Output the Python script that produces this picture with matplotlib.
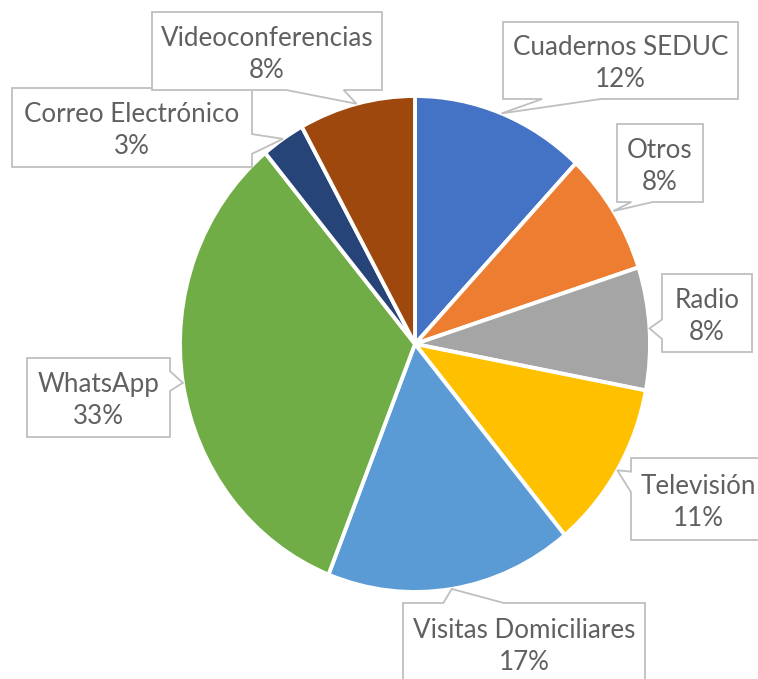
import matplotlib
matplotlib.use("Agg")
import matplotlib.pyplot as plt
from matplotlib.patches import Polygon
import numpy as np

# ---- data ----
categories = ["Cuadernos SEDUC", "Otros", "Radio", "Televisión",
              "Visitas Domiciliares", "WhatsApp", "Correo Electrónico",
              "Videoconferencias"]
values = [12, 8, 8, 11, 17, 33, 3, 8]
colors = ["#4472C4", "#ED7D31", "#A5A5A5", "#FFC000",
          "#5B9BD5", "#70AD47", "#264478", "#9E480E"]

# ---- layout (pixels) ----
W, H = 758, 679
cx, cy, rx, ry = 415, 344, 235, 248
# label boxes: left, top, right, bottom (pixel coords, y downward)
boxes = [
    (503, 22, 738, 99),
    (617, 124, 703, 202),
    (662, 274, 752, 352),
    (631, 458, 765, 540),
    (403, 603, 645, 684),
    (27, 358, 170, 437),
    (12, 88, 252, 167),
    (152, 12, 382, 90),
]
text_color = "#606060"
edge_color = "#BFBFBF"

fig = plt.figure(figsize=(W / 100, H / 100), dpi=100)
fig.patch.set_facecolor("white")

axp = fig.add_axes([(cx - rx) / W, (H - (cy + ry)) / H, 2 * rx / W, 2 * ry / H])
wedges, _ = axp.pie(values, colors=colors, startangle=90, counterclock=False,
                    radius=1, center=(0, 0), normalize=True,
                    wedgeprops=dict(edgecolor="white", linewidth=2.8))
axp.set_aspect("auto")
axp.set_xlim(-1, 1)
axp.set_ylim(-1, 1)
axp.axis("off")
for w_ in wedges:
    w_.set_clip_on(False)

axo = fig.add_axes([0, 0, 1, 1])
axo.set_xlim(0, W)
axo.set_ylim(H, 0)
axo.axis("off")
axo.patch.set_alpha(0)


def callout(l, t, r, b, tx, ty):
    w = r - l
    h = b - t
    hc = (l + r) / 2
    vc = (t + b) / 2
    dxp = tx - hc
    dyp = ty - vc
    if l <= tx <= r and t <= ty <= b:
        return [(l, t), (r, t), (r, b), (l, b)]
    xg1, xg2 = (7, 10) if dxp > 0 else (2, 5)
    yg1, yg2 = (7, 10) if dyp > 0 else (2, 5)
    x1, x2 = l + w * xg1 / 12, l + w * xg2 / 12
    y1, y2 = t + h * yg1 / 12, t + h * yg2 / 12
    dq = abs(dxp) * h - abs(dyp) * w
    if dq > 0:
        if dxp < 0:
            return [(l, t), (r, t), (r, b), (l, b), (l, y2), (tx, ty), (l, y1)]
        return [(l, t), (r, t), (r, y1), (tx, ty), (r, y2), (r, b), (l, b)]
    if dyp < 0:
        return [(l, t), (x1, t), (tx, ty), (x2, t), (r, t), (r, b), (l, b)]
    return [(l, t), (r, t), (r, b), (x2, b), (tx, ty), (x1, b), (l, b)]


# font size fitted so that the longest label width matches the reference
renderer = fig.canvas.get_renderer()
family = ["Lato", "DejaVu Sans"]
probe = axo.text(0, 0, "Videoconferencias", fontsize=20, family=family)
bw = probe.get_window_extent(renderer).width
probe.remove()
fs = 20 * 212 / bw

total = sum(values)
to_px = axp.transData + axo.transData.inverted()
for wdg, cat, val, box in zip(wedges, categories, values, boxes):
    mid = np.deg2rad((wdg.theta1 + wdg.theta2) / 2)
    tx, ty = to_px.transform((np.cos(mid), np.sin(mid)))
    l, t, r, b = box
    poly = Polygon(callout(l, t, r, b, tx, ty), closed=True,
                   facecolor="white", edgecolor=edge_color, linewidth=1.3,
                   zorder=3, clip_on=False)
    axo.add_patch(poly)
    xc = (l + r) / 2
    yc = (t + b) / 2
    axo.text(xc, yc - 13, cat, ha="center", va="center", fontsize=fs,
             color=text_color, family=family, zorder=4)
    axo.text(xc, yc + 19, f"{round(100 * val / total)}%", ha="center",
             va="center", fontsize=fs, color=text_color, family=family,
             zorder=4)

fig.savefig("out.png", dpi=100, facecolor="white")
